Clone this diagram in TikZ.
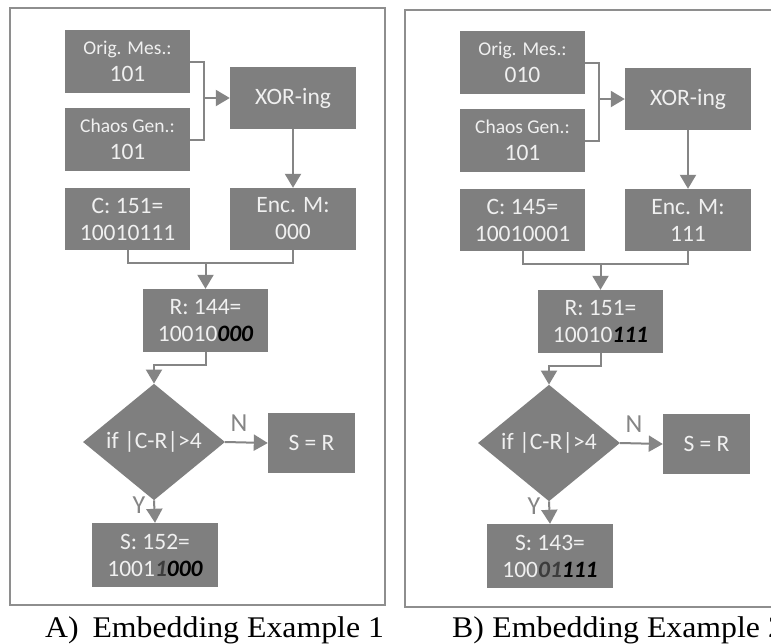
\documentclass[tikz,border=0pt]{standalone}
\usepackage{fontspec}
\usepackage{graphicx}
\setmainfont{Liberation Serif}
\newfontfamily\boxfont{Carlito}
\usetikzlibrary{shapes.geometric,arrows.meta,calc}
\definecolor{boxgray}{HTML}{7F7F7F}
\definecolor{boxtext}{HTML}{F0F0F0}
\definecolor{linegray}{HTML}{858585}
\definecolor{framegray}{HTML}{8E8E8E}
\definecolor{darkdig}{HTML}{3C3C3C}
\newcommand\bk[1]{{\color{black}\bfseries\itshape #1}}
\newcommand\dk[1]{{\color{darkdig}\bfseries\itshape #1}}
\newcommand\mypanel[8]{%
  \node[box, minimum width=125pt, minimum height=63pt] (#1orig) at (127.5,61.5) {{\fontsize{19.5}{27}\selectfont Orig. Mes.:}\\#2};
  \node[box, minimum width=125pt, minimum height=63pt] (#1chaos) at (127.5,139.5) {{\fontsize{19.5}{27}\selectfont Chaos Gen.:}\\#3};
  \node[box, minimum width=126pt, minimum height=62pt] (#1xor) at (293,98) {XOR-ing};
  \node[box, minimum width=125pt, minimum height=62pt] (#1c) at (127.5,219) {#4\\#5};
  \node[box, minimum width=126pt, minimum height=62pt] (#1enc) at (293,219) {Enc. M:\\#6};
  \node[box, minimum width=125pt, minimum height=63pt] (#1r) at (205.5,320.5) {#7};
  \node[box, shape=diamond, minimum width=142pt, minimum height=100pt] (#1d) at (154,442) {if |C-R|>4};
  \node[box, minimum width=87pt, minimum height=60pt] (#1sr) at (311.5,443) {S = R};
  \node[box, minimum width=126pt, minimum height=64pt] (#1s) at (155,555) {#8};
  \coordinate (#1bx) at (204,98);
  \coordinate (#1j1) at (0,263);
  \coordinate (#1j2) at (0,365);
  \draw[conn] (#1orig.east) -| (#1bx) |- (#1chaos.east);
  \draw[arr] (#1bx) -- (#1xor.west);
  \draw[arr] (#1xor.south) -- (#1enc.north);
  \draw[conn] (#1c.south) |- (#1j1 -| #1enc.south) -- (#1enc.south);
  \draw[arr] (#1j1 -| #1r.north) -- (#1r.north);
  \draw[arr] (#1r.south) -- (#1r.south |- #1j2) -| (#1d.north);
  \draw[arr] (#1d.east) -- (#1sr.west);
  \draw[arr] (#1d.south) -- (#1s.north);
  \node[lbl] (#1n) at (239,423) {N};
  \node[lbl] (#1y) at (139,505) {Y};
}
\begin{document}
\begin{tikzpicture}[x=1pt,y=-1pt,
  box/.style={fill=boxgray, text=boxtext, inner sep=0pt, align=center,
    font=\boxfont\fontsize{23.5}{27}\selectfont},
  conn/.style={draw=linegray, line width=2pt},
  arr/.style={conn, -{Triangle[width=16pt,length=14pt]}},
  lbl/.style={text=linegray, font=\boxfont\fontsize{26}{28}\selectfont, inner sep=0pt},
  panelframe/.style={draw=framegray, line width=1.8pt},
  captext/.style={anchor=base west, font=\fontsize{30}{32}\selectfont, inner sep=0pt}]
\clip (0,0) rectangle (771,643);
\fill[white] (0,0) rectangle (771,643);
\draw[panelframe] (10,8) rectangle (385,605);
\draw[panelframe] (405,10) rectangle (790,607);
\begin{scope}
\mypanel{a}{101}{101}{C: 151=}{10010111}{000}{R: 144=\\10010\bk{000}}{S: 152=\\1001\dk{1}\bk{000}}
\end{scope}
\begin{scope}[shift={(395,1)}]
\mypanel{b}{010}{101}{C: 145=}{10010001}{111}{R: 151=\\10010\bk{111}}{S: 143=\\100\dk{01}\bk{111}}
\end{scope}
\node[captext] (capa) at (45,637) {\scalebox{1.06}[1]{A)\hspace{13pt}Embedding Example 1}};
\node[captext] (capb) at (452,637) {\scalebox{1.06}[1]{B)\hspace{8pt}Embedding Example 2}};
\end{tikzpicture}
\end{document}
